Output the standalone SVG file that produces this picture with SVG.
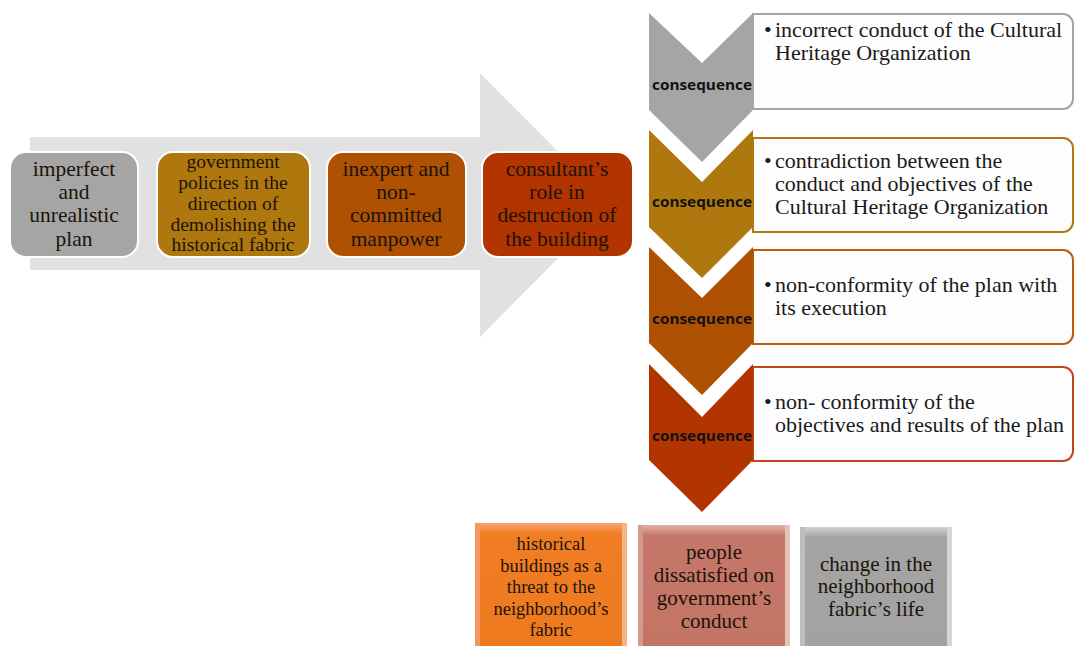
<svg xmlns="http://www.w3.org/2000/svg" width="1075" height="646" viewBox="0 0 1075 646">
<defs>
<style>
.t{font-family:"Liberation Serif","Times New Roman",serif;fill:#1c1308;text-anchor:middle}
.s18{font-size:21.5px}
.s16{font-size:19.5px}
.s20{font-size:21px}
.s19{font-size:18.5px}
.r{font-family:"Liberation Serif","Times New Roman",serif;fill:#1a1a1a;font-size:22px}
.c{font-family:"Open Sans","Noto Sans","DejaVu Sans",sans-serif;font-weight:bold;font-size:14px;fill:#111;text-anchor:middle}
.pb{stroke:#fff;stroke-width:2}
.tb{fill:#fdfdfd;stroke-width:2}
</style>
<linearGradient id="gO" x1="0" y1="0" x2="0" y2="1"><stop offset="0" stop-color="#f6a772"/><stop offset="0.08" stop-color="#f07d24"/><stop offset="1" stop-color="#ee7a1f"/></linearGradient>
<linearGradient id="gP" x1="0" y1="0" x2="0" y2="1"><stop offset="0" stop-color="#e2b2a8"/><stop offset="0.08" stop-color="#c57869"/><stop offset="1" stop-color="#c27465"/></linearGradient>
<linearGradient id="gG" x1="0" y1="0" x2="0" y2="1"><stop offset="0" stop-color="#d2d2d2"/><stop offset="0.08" stop-color="#a4a4a4"/><stop offset="1" stop-color="#a2a2a2"/></linearGradient>
</defs>
<rect width="1075" height="646" fill="#fff"/>

<g id="connectors">
<path d="M30,137 H480 V73 L611,205 L480,337 V270 H30 Z" fill="#e1e1e1"/>
</g>

<g id="n1"><rect class="pb" x="10" y="152" width="128" height="105" rx="16" fill="#a5a5a5"/>
<text class="t s18"><tspan x="74" y="176">imperfect</tspan><tspan x="74" y="199">and</tspan><tspan x="74" y="222">unrealistic</tspan><tspan x="74" y="246">plan</tspan></text></g>
<g id="n2"><rect class="pb" x="157" y="152" width="153" height="105" rx="16" fill="#ae780f"/>
<text class="t s16"><tspan x="233" y="168">government</tspan><tspan x="233" y="189">policies in the</tspan><tspan x="233" y="210">direction of</tspan><tspan x="233" y="231">demolishing the</tspan><tspan x="233" y="251">historical fabric</tspan></text></g>
<g id="n3"><rect class="pb" x="327" y="152" width="139" height="105" rx="16" fill="#ae5103"/>
<text class="t s18"><tspan x="396" y="176">inexpert and</tspan><tspan x="396" y="199">non-</tspan><tspan x="396" y="222">committed</tspan><tspan x="396" y="246">manpower</tspan></text></g>
<g id="n4"><rect class="pb" x="482" y="152" width="151" height="105" rx="16" fill="#b23401"/>
<text class="t s18"><tspan x="557" y="176">consultant’s</tspan><tspan x="557" y="199">role in</tspan><tspan x="557" y="222">destruction of</tspan><tspan x="557" y="246">the building</tspan></text></g>

<g id="c1">
<path class="tb" d="M753,14 H1063 A10,10 0 0 1 1073,24 V99 A10,10 0 0 1 1063,109 H753 Z" stroke="#a5a5a5"/>
<path d="M649,13 L702,63 L753,13 V110 L702,162 L649,110 Z" fill="#a5a5a5"/>
<text class="c" x="702" y="90" textLength="100" lengthAdjust="spacingAndGlyphs">consequence</text>
<text class="r"><tspan x="764" y="37">•</tspan><tspan x="775" y="37">incorrect conduct of the Cultural</tspan><tspan x="775" y="60">Heritage Organization</tspan></text>
</g>
<g id="c2">
<path class="tb" d="M753,138 H1063 A10,10 0 0 1 1073,148 V222 A10,10 0 0 1 1063,232 H753 Z" stroke="#af7a12"/>
<path d="M649,130 L702,182 L753,130 V227 L702,278 L649,227 Z" fill="#ae780f"/>
<text class="c" x="702" y="207" textLength="100" lengthAdjust="spacingAndGlyphs">consequence</text>
<text class="r"><tspan x="764" y="168">•</tspan><tspan x="775" y="168">contradiction between the</tspan><tspan x="775" y="191">conduct and objectives of the</tspan><tspan x="775" y="214">Cultural Heritage Organization</tspan></text>
</g>
<g id="c3">
<path class="tb" d="M753,250 H1063 A10,10 0 0 1 1073,260 V334 A10,10 0 0 1 1063,344 H753 Z" stroke="#c05a0c"/>
<path d="M649,247 L702,298 L753,247 V343 L702,395 L649,343 Z" fill="#ae5103"/>
<text class="c" x="702" y="324" textLength="100" lengthAdjust="spacingAndGlyphs">consequence</text>
<text class="r"><tspan x="764" y="292">•</tspan><tspan x="775" y="292">non-conformity of the plan with</tspan><tspan x="775" y="315">its execution</tspan></text>
</g>
<g id="c4">
<path class="tb" d="M753,367 H1063 A10,10 0 0 1 1073,377 V451 A10,10 0 0 1 1063,461 H753 Z" stroke="#c2461a"/>
<path d="M649,364 L702,417 L753,364 V460 L702,512 L649,460 Z" fill="#b23401"/>
<text class="c" x="702" y="441" textLength="100" lengthAdjust="spacingAndGlyphs">consequence</text>
<text class="r"><tspan x="764" y="409">•</tspan><tspan x="775" y="409">non- conformity of the</tspan><tspan x="775" y="432">objectives and results of the plan</tspan></text>
</g>

<g id="b1"><rect x="475" y="523" width="152" height="130" fill="url(#gO)"/>
<rect x="475" y="523" width="5" height="130" fill="#f29a5c"/><rect x="622" y="523" width="5" height="130" fill="#f6b47e"/>
<text class="t s19"><tspan x="551" y="550">historical</tspan><tspan x="551" y="571.5">buildings as a</tspan><tspan x="551" y="593">threat to the</tspan><tspan x="551" y="614.5">neighborhood’s</tspan><tspan x="551" y="636">fabric</tspan></text></g>
<g id="b2"><rect x="638" y="525" width="152" height="130" fill="url(#gP)"/>
<rect x="638" y="525" width="5" height="130" fill="#d49a8f"/><rect x="785" y="525" width="5" height="130" fill="#e6c2ba"/>
<text class="t s20"><tspan x="714" y="559">people</tspan><tspan x="714" y="582">dissatisfied on</tspan><tspan x="714" y="605">government’s</tspan><tspan x="714" y="628">conduct</tspan></text></g>
<g id="b3"><rect x="800" y="527" width="152" height="130" fill="url(#gG)"/>
<rect x="800" y="527" width="5" height="130" fill="#bdbdbd"/><rect x="947" y="527" width="5" height="130" fill="#d6d6d6"/>
<text class="t s20"><tspan x="876" y="571">change in the</tspan><tspan x="876" y="593">neighborhood</tspan><tspan x="876" y="616">fabric’s life</tspan></text></g>
</svg>
